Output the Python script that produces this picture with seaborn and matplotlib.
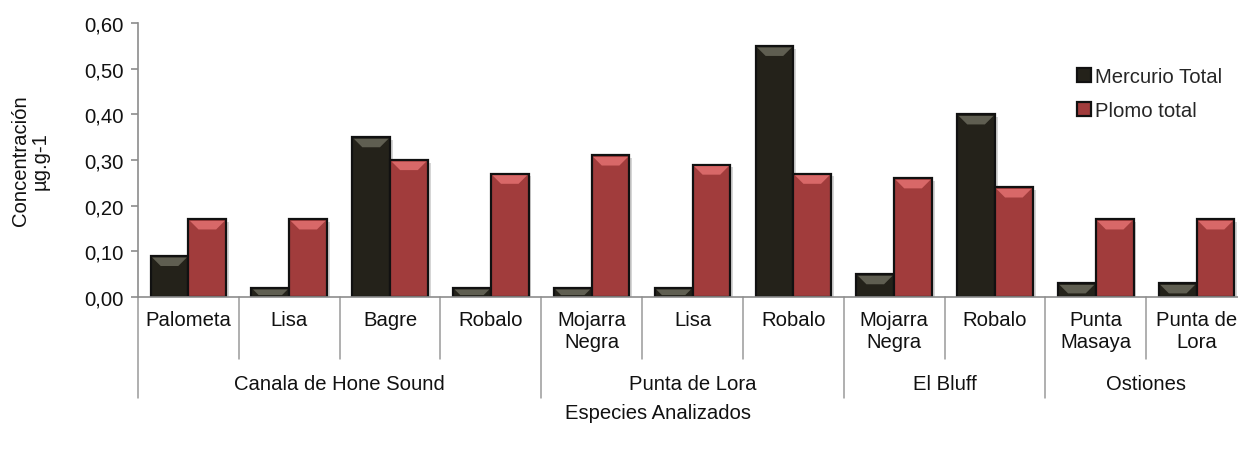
import matplotlib
matplotlib.use("Agg")
import matplotlib.pyplot as plt
import matplotlib.patheffects as pe
from matplotlib.patches import Polygon, Patch
from matplotlib.lines import Line2D
import matplotlib.transforms as mtransforms
import numpy as np
import pandas as pd
import seaborn as sns

# Data
species = ["Palometa", "Lisa", "Bagre", "Robalo",
           "Mojarra\nNegra", "Lisa", "Robalo",
           "Mojarra\nNegra", "Robalo",
           "Punta\nMasaya", "Punta de\nLora"]
sites = ["Canala de Hone Sound"] * 4 + ["Punta de Lora"] * 3 + ["El Bluff"] * 2 + ["Ostiones"] * 2
mercurio = [0.09, 0.02, 0.35, 0.02, 0.02, 0.02, 0.55, 0.05, 0.40, 0.03, 0.03]
plomo = [0.17, 0.17, 0.30, 0.27, 0.31, 0.29, 0.27, 0.26, 0.24, 0.17, 0.17]
series_names = ["Mercurio Total", "Plomo total"]
yticks = [0.0, 0.1, 0.2, 0.3, 0.4, 0.5, 0.6]

keys = [f"{s}|{i}" for i, s in enumerate(species)]
df = pd.DataFrame({
    "key": keys * 2,
    "valor": mercurio + plomo,
    "serie": [series_names[0]] * len(keys) + [series_names[1]] * len(keys),
})

sns.set_theme(style="white")
plt.rcParams["font.family"] = ["Liberation Sans", "DejaVu Sans"]
FS = 14.6
TXT = "#111111"

colors = {"Mercurio Total": "#24221a", "Plomo total": "#a13c3c"}
bevel = {"Mercurio Total": "#5f5e51", "Plomo total": "#d86868"}

fig = plt.figure(figsize=(12.38, 4.52), dpi=100)
ax = fig.add_axes([138 / 1238, 1 - 298 / 452, 1109 / 1238, 274 / 452])

sns.barplot(data=df, x="key", y="valor", hue="serie", order=keys,
            hue_order=series_names, palette=colors, saturation=1,
            width=0.75, edgecolor="#111111", linewidth=1.6,
            legend=False, ax=ax)

ax.set_xlim(-0.5, len(keys) - 0.5)
ax.set_ylim(0, 0.6)

# bevelled tops and soft shadows
px_y = 274 / 0.6          # pixels per data unit (y)
px_x = 1109 / len(keys)   # pixels per category
for p in ax.patches:
    h = p.get_height()
    if h <= 0:
        continue
    x0, w = p.get_x(), p.get_width()
    fc = p.get_facecolor()
    name = series_names[0] if fc[0] < 0.4 else series_names[1]
    p.set_path_effects([pe.SimplePatchShadow(offset=(2, -2), shadow_rgbFace="#888888", alpha=0.35),
                        pe.Normal()])
    top = h - 1.6 / px_y
    bh = min(8.5 / px_y, (h - 2.5 / px_y) * 0.85)
    inset = bh * px_y / px_x
    lw = 1.6 / px_x
    poly = Polygon([(x0 + lw, top), (x0 + w - lw, top),
                    (x0 + w - lw - inset, top - bh), (x0 + lw + inset, top - bh)],
                   closed=True, facecolor=bevel[name], edgecolor="none", zorder=3)
    ax.add_patch(poly)

# axes styling
for s in ["top", "right"]:
    ax.spines[s].set_visible(False)
for s in ["left", "bottom"]:
    ax.spines[s].set_color("#8c8c8c")
    ax.spines[s].set_linewidth(1.2)
ax.set_yticks(yticks)
ax.set_yticklabels([f"{v:.2f}".replace(".", ",") for v in yticks], fontsize=FS, color=TXT)
ax.tick_params(axis="y", which="major", left=True, length=5, width=1.2, color="#8c8c8c", pad=5)
ax.tick_params(axis="x", bottom=False, labelbottom=False)
ax.set_xlabel("")
ax.set_ylabel("Concentración\nµg.g-1", fontsize=FS, color=TXT, linespacing=1.05)
ax.yaxis.set_label_coords(-0.08, 0.5)

# two-level category axis
trans = mtransforms.blended_transform_factory(ax.transData, ax.transAxes)


def ypx(px):
    return (298 - px) / 274


for i, sp in enumerate(species):
    ax.text(i, ypx(311), sp, transform=trans, ha="center", va="top",
            fontsize=FS, color=TXT, linespacing=1.2)

boundaries = np.arange(len(keys) + 1) - 0.5
group_edges = [0]
for i in range(1, len(sites)):
    if sites[i] != sites[i - 1]:
        group_edges.append(i)
group_edges.append(len(sites))

for b in boundaries:
    idx = int(b + 0.5)
    long = idx in group_edges
    ax.add_line(Line2D([b, b], [0, ypx(399 if long else 360)], transform=trans,
                       color="#9a9a9a", lw=1.1, clip_on=False))

for a, b in zip(group_edges[:-1], group_edges[1:]):
    ax.text((a + b - 1) / 2, ypx(385), sites[a], transform=trans, ha="center",
            va="center", fontsize=FS, color=TXT)

fig.text(658 / 1238, 1 - 414 / 452, "Especies Analizados", ha="center", va="center",
         fontsize=FS, color=TXT)

# legend
handles = [Patch(facecolor=colors[n], edgecolor="#111111", linewidth=1.6) for n in series_names]
fig.legend(handles, series_names, loc="upper left", bbox_to_anchor=(1077 / 1238, 1 - 68 / 452),
           frameon=False, fontsize=FS, handlelength=0.7, handleheight=0.7,
           handletextpad=0.2, labelspacing=0.75, borderaxespad=0, borderpad=0)

fig.savefig("out.png", dpi=100, facecolor="white")
